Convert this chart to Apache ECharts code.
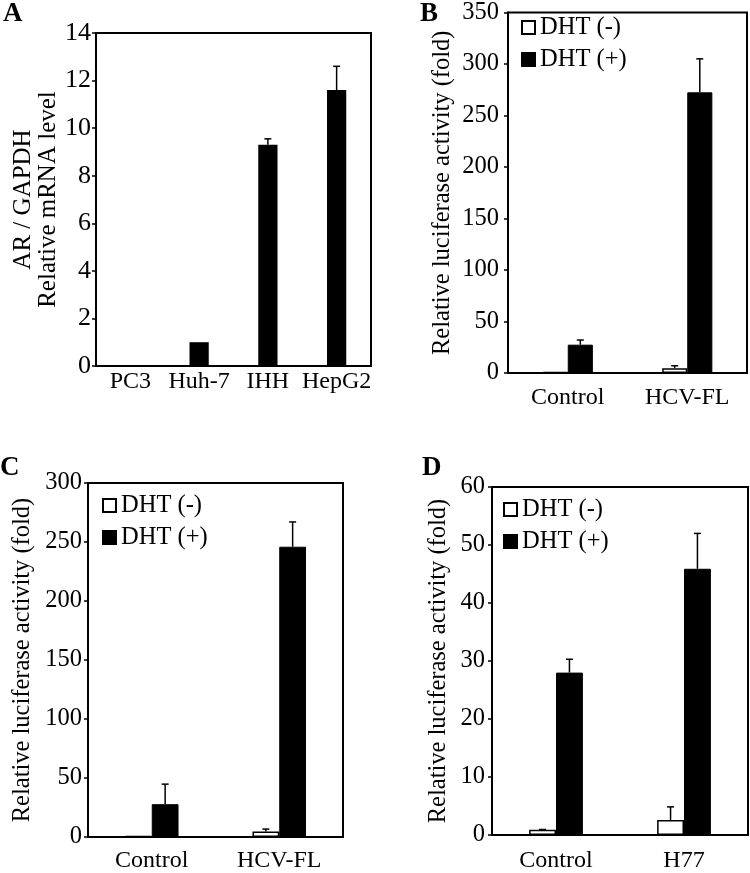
<!DOCTYPE html>
<html>
<head>
<meta charset="UTF-8">
<title>AR expression / luciferase</title>
<script src="https://cdn.jsdelivr.net/npm/echarts@6/dist/echarts.min.js"></script>
<style>
html,body{margin:0;padding:0;background:#fff}
#main{width:750px;height:873px}
</style>
</head>
<body>
<div id="main"></div>
<script>
// A: AR mRNA
var catsA = ['PC3', 'Huh-7', 'IHH', 'HepG2'];
var valsA = [0, 1, 9.3, 11.6];
var errA = [0, 0, 0.25, 1.0];
// B
var catsB = ['Control', 'HCV-FL'];
var minusB = [1, 4.7];
var minusErrB = [0, 2.3];
var plusB = [27.5, 272.5];
var plusErrB = [4.5, 32.5];
// C
var catsC = ['Control', 'HCV-FL'];
var minusC = [1, 4.7];
var minusErrC = [0, 2];
var plusC = [27.8, 246];
var plusErrC = [17, 21];
// D
var catsD = ['Control', 'H77'];
var minusD = [0.9, 2.6];
var minusErrD = [0.05, 2.25];
var plusD = [28, 45.9];
var plusErrD = [2.3, 6.1];

var FONT = 'Liberation Serif';
var chart = echarts.init(document.getElementById('main'));

function errData(vals, errs){
	var out = [];
	for (var i = 0; i < vals.length; i++) out.push([i, vals[i], errs[i]]);
	return out;
}

// error bar, only upward, side: -1 left bar, 0 single, 1 right bar
function errSeries(ax, vals, errs, side, frac){
	return {
		type: 'custom',
		xAxisIndex: ax, yAxisIndex: ax,
		z: 5,
		encode: {x: 0, y: 1},
		data: errData(vals, errs),
		renderItem: function(params, api){
			var e = api.value(2);
			if (!e) return null;
			var v = api.value(1);
			var bw = api.size([1, 0])[0] * frac;
			var p0 = api.coord([api.value(0), v]);
			var p1 = api.coord([api.value(0), v + e]);
			var x = p0[0] + side * bw / 2;
			var st = {stroke: '#000', lineWidth: 1.5};
			return {
				type: 'group',
				children: [
					{type: 'line', shape: {x1: x, y1: p0[1], x2: x, y2: p1[1]}, style: st},
					{type: 'line', shape: {x1: x - 3.5, y1: p1[1], x2: x + 3.5, y2: p1[1]}, style: st}
				]
			};
		}
	};
}

function xAx(idx, cats, margin){
	return {
		type: 'category', gridIndex: idx, data: cats,
		axisLine: {lineStyle: {color: '#000', width: 2}},
		axisTick: {show: false},
		axisLabel: {color: '#000', fontFamily: FONT, fontSize: 24, margin: margin, interval: 0}
	};
}
function yAx(idx, max, step, name, gap, size, margin){
	return {
		type: 'value', gridIndex: idx, min: 0, max: max, interval: step,
		name: name, nameLocation: 'middle', nameGap: gap, nameRotate: 90,
		nameTextStyle: {color: '#000', fontFamily: FONT, fontSize: idx === 0 ? 25 : 24.5, lineHeight: idx === 0 ? 25 : 26},
		axisLine: {show: true, lineStyle: {color: '#000', width: 2}},
		axisTick: {show: true, length: 4, lineStyle: {color: '#000', width: 1.5}},
		axisLabel: {color: '#000', fontFamily: FONT, fontSize: size, margin: margin},
		splitLine: {show: false}
	};
}
function legendAt(left, top){
	return {
		orient: 'vertical', left: left, top: top,
		data: ['DHT (-)', 'DHT (+)'],
		icon: 'rect', itemWidth: 13, itemHeight: 13, itemGap: 7,
		textStyle: {color: '#000', fontFamily: FONT, fontSize: 24.5}
	};
}
function minusBar(ax, vals){
	return {
		name: 'DHT (-)', type: 'bar', xAxisIndex: ax, yAxisIndex: ax,
		data: vals, barWidth: '21%', barGap: '0%',
		itemStyle: {color: '#fff', borderColor: '#000', borderWidth: 1.5}
	};
}
function plusBar(ax, vals){
	return {
		name: 'DHT (+)', type: 'bar', xAxisIndex: ax, yAxisIndex: ax,
		data: vals, barWidth: '21%', barGap: '0%',
		itemStyle: {color: '#000', borderColor: '#000', borderWidth: 1}
	};
}

var gridStyle = {show: true, borderColor: '#000', borderWidth: 2, backgroundColor: 'transparent'};
var lname = {fontFamily: FONT, fontSize: 27, fontWeight: 'bold', fill: '#000'};

chart.setOption({
	animation: false,
	backgroundColor: '#fff',
	grid: [
		Object.assign({left: 96, top: 33, width: 275, height: 333}, gridStyle),
		Object.assign({left: 508, top: 5, width: 239, height: 368}, gridStyle),
		Object.assign({left: 88, top: 483, width: 255, height: 359}, gridStyle),
		Object.assign({left: 492, top: 487, width: 256, height: 351}, gridStyle)
	],
	xAxis: [
		xAx(0, catsA, 4),
		xAx(1, catsB, 13),
		xAx(2, catsC, 12),
		xAx(3, catsD, 14)
	],
	yAxis: [
		yAx(0, 14, 2, 'AR / GAPDH\nRelative mRNA level', 25, 26, 5),
		yAx(1, 350, 50, 'Relative luciferase activity (fold)', 52, 24.5, 9),
		yAx(2, 300, 50, 'Relative luciferase activity (fold)', 52, 24.5, 6),
		yAx(3, 60, 10, 'Relative luciferase activity (fold)', 40, 24.5, 7)
	],
	legend: [
		legendAt(516, 10),
		legendAt(97, 488),
		legendAt(498, 492)
	],
	graphic: [
		{type: 'text', left: 3, top: 1, style: Object.assign({text: 'A'}, lname)},
		{type: 'text', left: 420, top: 1, style: Object.assign({text: 'B'}, lname)},
		{type: 'text', left: 0, top: 455, style: Object.assign({text: 'C'}, lname)},
		{type: 'text', left: 422, top: 455, style: Object.assign({text: 'D'}, lname)}
	],
	series: [
		{
			type: 'bar', xAxisIndex: 0, yAxisIndex: 0, data: valsA, barWidth: '28%',
			itemStyle: {color: '#000'}
		},
		errSeries(0, valsA, errA, 0, 0.28),

		minusBar(1, minusB), plusBar(1, plusB),
		errSeries(1, minusB, minusErrB, -1, 0.21),
		errSeries(1, plusB, plusErrB, 1, 0.21),

		minusBar(2, minusC), plusBar(2, plusC),
		errSeries(2, minusC, minusErrC, -1, 0.21),
		errSeries(2, plusC, plusErrC, 1, 0.21),

		minusBar(3, minusD), plusBar(3, plusD),
		errSeries(3, minusD, minusErrD, -1, 0.21),
		errSeries(3, plusD, plusErrD, 1, 0.21)
	]
});
</script>
</body>
</html>
